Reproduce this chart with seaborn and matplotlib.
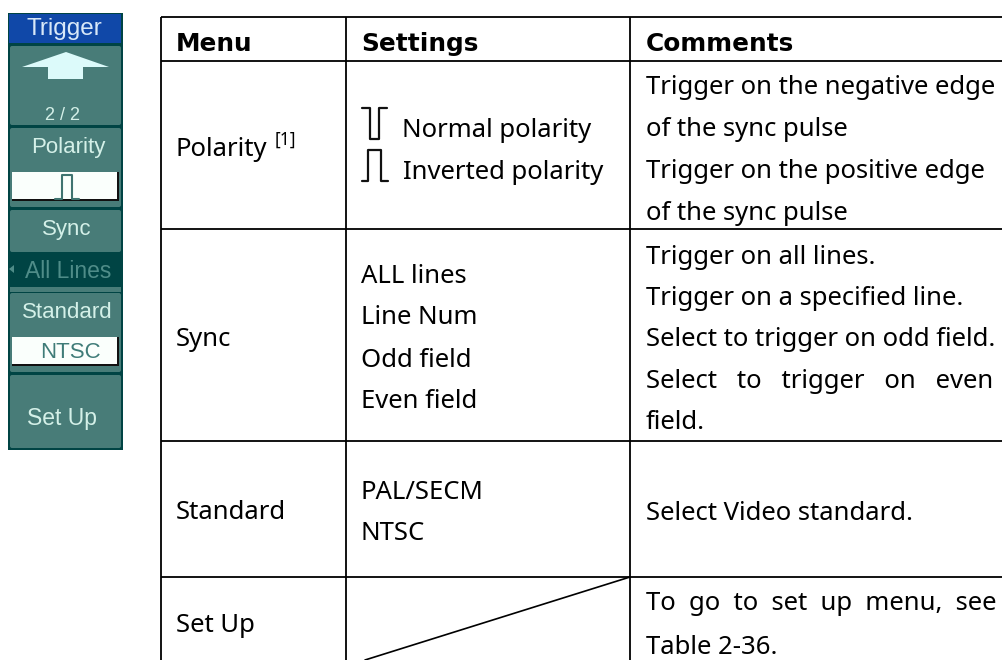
import matplotlib
matplotlib.use("Agg")
import matplotlib.pyplot as plt
from matplotlib.patches import Rectangle, Polygon, FancyBboxPatch
import seaborn as sns

sns.set_theme(style="white")
FONT = ["Noto Sans", "DejaVu Sans"]
plt.rcParams["font.family"] = FONT

headers = ["Menu", "Settings", "Comments"]
menu_items = ["Polarity", "Sync", "Standard", "Set Up"]
menu_y = [149.5, 339.5, 512.5, 625.5]
settings_sync = ["ALL lines", "Line Num", "Odd field", "Even field"]
settings_sync_y = [276.5, 318, 360.5, 401.5]
settings_std = ["PAL/SECM", "NTSC"]
settings_std_y = [492.5, 533.5]
comments = [
    "Trigger on the negative edge", "of the sync pulse",
    "Trigger on the positive edge", "of the sync pulse",
    "Trigger on all lines.", "Trigger on a specified line.",
    "Select to trigger on odd field.", "Select   to   trigger   on   even", "field.",
    "Select Video standard.", "To  go  to  set  up  menu,  see", "Table 2-36.",
]
comments_y = [88, 130, 171, 213, 257.5, 298.5, 339.5, 381.5, 422.5, 513.5, 603.5, 647.5]
col_x = [161, 346, 630]
row_y = [17, 61, 229, 441, 577]

BLACK = "#000000"
fig = plt.figure(figsize=(10.03, 6.60), dpi=100, facecolor="white")
ax = fig.add_axes([0, 0, 1, 1])
ax.set_xlim(0, 1003)
ax.set_ylim(660, 0)
ax.axis("off")
FS = 18.5

# table rules
for y in row_y:
    ax.plot([col_x[0], 1003], [y, y], color=BLACK, lw=1.3, solid_capstyle="butt")
for x in col_x:
    ax.plot([x, x], [row_y[0], 660], color=BLACK, lw=1.3, solid_capstyle="butt")
ax.plot([365, col_x[2]], [660, row_y[4]], color=BLACK, lw=1.2)

# header
for x, h in zip([176, 361, 646], headers):
    ax.text(x, 44, h, fontsize=17.8, fontweight="bold", color=BLACK, va="center", ha="left",
            family=["DejaVu Sans"])

# menu column
for t, y in zip(menu_items, menu_y):
    ax.text(176, y, t, fontsize=FS, color=BLACK, va="center", ha="left")
ax.text(275, 139.5, "[1]", fontsize=12.5, color=BLACK, va="center", ha="left")

# settings column
ax.text(402, 130.5, "Normal polarity", fontsize=FS, color=BLACK, va="center", ha="left")
ax.text(403, 172.5, "Inverted polarity", fontsize=FS, color=BLACK, va="center", ha="left")
ax.plot([362, 370, 370, 379, 379, 387], [108, 108, 139, 139, 108, 108], color="#111111", lw=1.6)
ax.plot([362, 368, 368, 381, 381, 388], [181, 181, 150, 150, 181, 181], color="#111111", lw=1.6)
for t, y in zip(settings_sync, settings_sync_y):
    ax.text(361, y, t, fontsize=FS, color=BLACK, va="center", ha="left")
for t, y in zip(settings_std, settings_std_y):
    ax.text(361, y, t, fontsize=FS, color=BLACK, va="center", ha="left")

# comments column
for t, y in zip(comments, comments_y):
    ax.text(646, y, t, fontsize=FS, color=BLACK, va="center", ha="left")

# oscilloscope menu panel
DARK = "#004444"
BTN = "#487c78"
LIGHT = "#d4f0e8"
PFONT = ["Liberation Sans", "DejaVu Sans"]
ax.add_patch(Rectangle((8, 13), 115, 437, fc=DARK, ec="none"))
ax.add_patch(Rectangle((9, 14), 112, 29, fc="#1048a8", ec="none"))
buttons = [(46, 79), (128, 79), (210, 42), (293, 79), (375, 73)]
for y, h in buttons:
    ax.add_patch(FancyBboxPatch((10, y), 111, h, boxstyle="round,pad=0,rounding_size=2", fc=BTN, ec="none"))
ax.add_patch(Rectangle((10, 287), 111, 5, fc=BTN, ec="none"))
ax.add_patch(Polygon([(22, 67), (66, 52), (109, 67), (83, 67), (83, 79), (48, 79), (48, 67)], fc="#dcfafa", ec="none"))
for t, y, x, fc, fs in [("Trigger", 29, 64, "#d8e8f8", 17.5), ("2 / 2", 115, 63, LIGHT, 13), ("Polarity", 148, 68, LIGHT, 16),
                        ("Sync", 230, 67, LIGHT, 16), ("All Lines", 271, 68, "#4f8c88", 16.5), ("Standard", 313, 67, LIGHT, 16),
                        ("Set Up", 418, 62, LIGHT, 16.5)]:
    ax.text(x, y, t, fontsize=fs, color=fc, va="center", ha="center", family=PFONT)
ax.add_patch(Polygon([(9, 269), (14, 265), (14, 273)], fc="#4f8c88", ec="none"))
for y in (172, 337):
    ax.add_patch(Rectangle((12, y), 107, 29, fc="#111111", ec="none"))
    ax.add_patch(Rectangle((12, y), 105, 27, fc="#fafffc", ec="none"))
ax.plot([55, 62, 62, 72, 72, 79], [199, 199, 175, 175, 199, 199], color="#3f7470", lw=1.5)
ax.text(70, 353, "NTSC", fontsize=16, color="#3f7c78", va="center", ha="center", family=PFONT)

sns.despine(ax=ax, left=True, bottom=True)
fig.savefig("out.png", dpi=100, facecolor="white")
